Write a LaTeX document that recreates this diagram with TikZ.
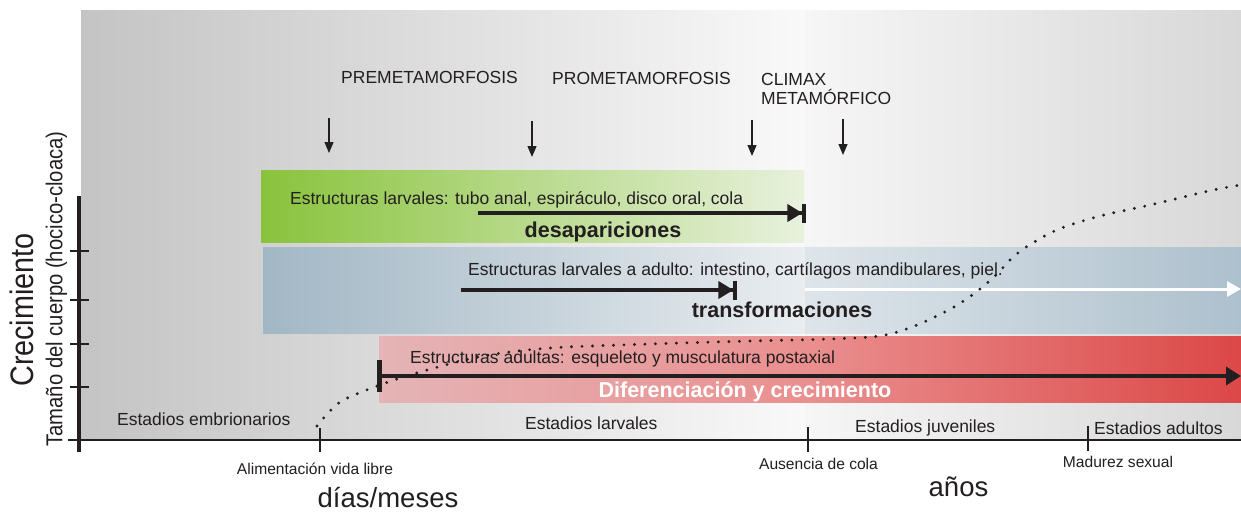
\documentclass[tikz,border=0pt]{standalone}
\usepackage{graphicx}
\usepackage{fontspec}
\setmainfont{Liberation Sans}
\usetikzlibrary{arrows.meta}
\definecolor{txt}{RGB}{35,31,32}
\definecolor{bgL}{RGB}{196,196,196}
\definecolor{bgM}{RGB}{249,249,249}
\definecolor{bgMb}{RGB}{246,246,246}
\definecolor{bgR}{RGB}{216,216,216}
\definecolor{gL}{RGB}{137,195,60}
\definecolor{gR}{RGB}{232,241,221}
\definecolor{bL}{RGB}{162,183,197}
\definecolor{bM}{RGB}{233,237,240}
\definecolor{bMb}{RGB}{222,229,234}
\definecolor{bR}{RGB}{173,192,205}
\definecolor{rL}{RGB}{229,180,182}
\definecolor{rM}{RGB}{234,143,143}
\definecolor{rR}{RGB}{219,72,71}
\begin{document}
\begin{tikzpicture}[x=1pt,y=-1pt,
  lbl/.style={inner sep=0pt, text=txt, font=\fontsize{17.5}{20}\selectfont},
  small/.style={inner sep=0pt, text=txt, font=\fontsize{15.6}{18}\selectfont},
  big/.style={inner sep=0pt, text=txt, font=\fontsize{27.5}{30}\selectfont},
  boldlbl/.style={inner sep=0pt, text=txt, font=\fontsize{21.5}{24}\selectfont\bfseries},
  phasearrow/.style={line width=1.3pt, draw=txt, -{Triangle[length=11pt,width=9pt]}},
  bararrow/.style={line width=3.6pt, draw=txt, -{Triangle[length=15pt,width=17pt] Bar[width=19pt,line width=3.6pt]}},
  tickline/.style={line width=1.6pt, draw=txt}
]
\useasboundingbox (0,0) rectangle (1241,511);
\fill[white] (0,0) rectangle (1241,511);
% background
\shade[left color=bgL, right color=bgM] (81,11) rectangle (805.5,440);
\shade[left color=bgMb, right color=bgR] (805,11) rectangle (1241,440);
% bands
\shade[left color=gL, right color=gR] (261,170) rectangle (804,242);
\shade[left color=bL, right color=bM] (263,247) rectangle (805.5,333);
\shade[left color=bMb, right color=bR] (805,247) rectangle (1241,333);
\shade[left color=rL, right color=rM] (379,336) rectangle (805.5,402);
\shade[left color=rM, right color=rR] (805,336) rectangle (1241,402);

% axes
\coordinate (ytop) at (79,196);
\coordinate (ybot) at (79,452);
\coordinate (xl) at (68,440);
\coordinate (xr) at (1241,440);
\draw[line width=4pt, draw=txt] (ytop) -- (ybot);
\draw[line width=1.8pt, draw=txt] (xl) -- (xr);
\foreach \yy [count=\i] in {251,300,344,387}{
  \coordinate (ta\i) at (70,\yy);
  \coordinate (tb\i) at (89,\yy);
  \draw[line width=1.1pt, draw=txt] (ta\i) -- (tb\i);
}
\coordinate (x1a) at (320,428); \coordinate (x1b) at (320,452);
\coordinate (x2a) at (808,427); \coordinate (x2b) at (808,452);
\coordinate (x3a) at (1088,426); \coordinate (x3b) at (1088,451);
\draw[tickline] (x1a) -- (x1b);
\draw[tickline] (x2a) -- (x2b);
\draw[tickline] (x3a) -- (x3b);

% axis titles
\node[inner sep=0pt, text=txt, font=\fontsize{32.5}{34}\selectfont, rotate=90] (crec) at (21.5,310) {\scalebox{0.885}[1]{Crecimiento}};
\node[inner sep=0pt, text=txt, font=\fontsize{23}{25}\selectfont, rotate=90] (tam) at (56.5,289) {\scalebox{0.88}[1]{Tamaño del cuerpo (hocico-cloaca)}};

% phase labels
\node[lbl, anchor=base west] (pre) at (341,83) {PREMETAMORFOSIS};
\node[lbl, anchor=base west] (pro) at (552,84) {PROMETAMORFOSIS};
\node[lbl, anchor=base west] (cli) at (761,85) {CLIMAX};
\node[lbl, anchor=base west] (cli2) at (761,104) {METAMÓRFICO};

% phase arrows
\coordinate (p1s) at (329,118); \coordinate (p1e) at (329,153);
\coordinate (p2s) at (532,121); \coordinate (p2e) at (532,157);
\coordinate (p3s) at (752,120); \coordinate (p3e) at (752,156);
\coordinate (p4s) at (843,119); \coordinate (p4e) at (843,155);
\draw[phasearrow] (p1s) -- (p1e);
\draw[phasearrow] (p2s) -- (p2e);
\draw[phasearrow] (p3s) -- (p3e);
\draw[phasearrow] (p4s) -- (p4e);

% band texts
\node[lbl, anchor=base west] (gtxt) at (290,204) {Estructuras larvales: tubo anal, espiráculo, disco oral, cola};
\node[boldlbl, anchor=base] (gbold) at (603,237) {desapariciones};
\node[lbl, anchor=base west] (btxt) at (468,275) {Estructuras larvales a adulto: intestino, cartílagos mandibulares, piel.};
\node[boldlbl, anchor=base] (bbold) at (782,317) {transformaciones};
\node[lbl, anchor=base west] (rtxt) at (410,363) {Estructuras adultas: esqueleto y musculatura postaxial};
\node[boldlbl, anchor=base, text=white] (rbold) at (745,397) {Diferenciación y crecimiento};

% band arrows
\coordinate (gs) at (478,213); \coordinate (ge) at (806,213);
\draw[bararrow] (gs) -- (ge);
\coordinate (bs) at (461,290); \coordinate (be) at (737,290);
\draw[bararrow] (bs) -- (be);
\coordinate (ws) at (805,289); \coordinate (we) at (1241,289);
\draw[line width=3pt, draw=white, -{Triangle[length=14pt,width=15pt]}] (ws) -- (we);
\coordinate (rs) at (377,376); \coordinate (re) at (1241,376);
\draw[line width=3.6pt, draw=txt, {Bar[width=32pt,line width=5pt]}-{Triangle[length=15pt,width=18pt]}] (rs) -- (re);

% growth curve
\draw[line width=3.2pt, line cap=round, dash pattern=on 0pt off 10.5pt, draw=txt]
  plot[smooth, tension=0.5] coordinates {(317,426) (340,402) (380,385) (420,372) (483,356) (550,348) (650,344) (750,341) (830,339) (880,336) (912,327) (943,313) (962,302) (980,289) (997,274) (1013,257) (1031,244) (1059,229) (1100,216) (1150,205) (1213,190) (1241,185)};

% stage labels
\node[lbl, anchor=base west] (s1) at (117,425) {Estadios embrionarios};
\node[lbl, anchor=base west] (s2) at (525,429) {Estadios larvales};
\node[lbl, anchor=base west] (s3) at (855,432) {Estadios juveniles};
\node[lbl, anchor=base west] (s4) at (1094,434) {Estadios adultos};

% tick labels
\node[small, anchor=base] (t1) at (315,474) {Alimentación vida libre};
\node[small, anchor=base] (t2) at (818.5,469) {Ausencia de cola};
\node[small, anchor=base] (t3) at (1118,467) {Madurez sexual};

% time units
\node[big, anchor=base] (u1) at (388,507) {días/meses};
\node[big, anchor=base] (u2) at (958.5,496) {años};
\end{tikzpicture}
\end{document}
